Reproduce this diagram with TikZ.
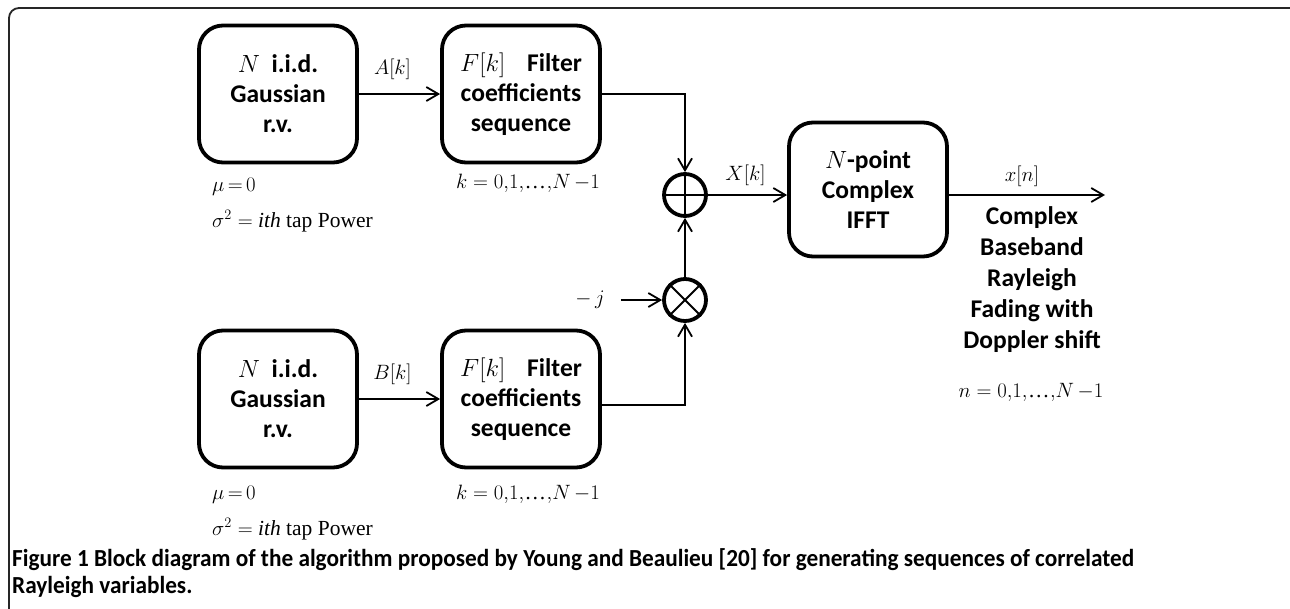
\documentclass[tikz,border=0pt]{standalone}
\usepackage{fontspec}
\setmainfont{Liberation Serif}
\newfontfamily\boxfont{Carlito}
\newfontfamily\capfont[FakeStretch=0.95]{Carlito}
\usetikzlibrary{arrows.meta,calc}
\newcommand{\tightdots}{\mbox{\fontspec{Liberation Serif}\kern0.5pt…\kern0.5pt}}
\begin{document}
\begin{tikzpicture}[x=1pt,y=-1pt,
  blk/.style={draw, line width=3.8pt, rounded corners=24pt, minimum width=158pt, minimum height=137pt,
    align=center, inner sep=0pt, font=\boxfont\bfseries\fontsize{25.5}{30}\selectfont},
  sumnode/.style={draw, circle, line width=3.8pt, minimum size=42pt, inner sep=0pt},
  conn/.style={line width=1.8pt, -{Straight Barb[length=12pt,width=14pt,line width=1.8pt]}},
  lbl/.style={inner sep=0pt, font=\fontsize{21.5}{25}\selectfont},
  outtxt/.style={inner sep=0pt, align=center, font=\boxfont\bfseries\fontsize{25.5}{31}\selectfont},
  captxt/.style={inner sep=0pt, anchor=base west, font=\capfont\bfseries\fontsize{24.5}{28}\selectfont}
]
\useasboundingbox (0,0) rectangle (1290,608);
\draw[line width=1.8pt, black!85, rounded corners=10pt] (9,8) rectangle (1300,640);

% blocks
\node[blk] (g1) at (278,94) {$N$\ \ i.i.d.\\Gaussian\\r.v.};
\node[blk] (f1) at (521,94) {$F[k]$\hspace{22pt}Filter\\coefficients\\sequence};
\node[blk] (g2) at (278,399) {$N$\ \ i.i.d.\\Gaussian\\r.v.};
\node[blk] (f2) at (521,399) {$F[k]$\hspace{22pt}Filter\\coefficients\\sequence};
\node[blk, minimum height=134pt] (ifft) at (868,189.5) {$N$-point\\Complex\\IFFT};

% adders
\node[sumnode] (plus) at (685,195) {};
\node[sumnode] (times) at (685,300) {};
\draw[line width=2.6pt] (plus.north) -- (plus.south) (plus.west) -- (plus.east);
\draw[line width=2pt] (times.north west) -- (times.south east) (times.north east) -- (times.south west);

% connectors
\draw[conn] (g1.east) -- node[lbl, above=13pt, xshift=-7pt] {$A[k]$} (f1.west);
\draw[conn] (g2.east) -- node[lbl, above=13pt, xshift=-7pt] {$B[k]$} (f2.west);
\draw[conn] (f1.east) -| (plus.north);
\draw[conn] ($(f2.east)+(0,6)$) -| (times.south);
\draw[conn] (times.north) -- (plus.south);
\node[lbl] (mj) at (590,300) {$-\,j$};
\draw[conn] (mj.east) ++(16,0) coordinate (mjs) -- (times.west);
\draw[conn] (plus.east) -- node[lbl, above=8pt, xshift=-2pt] {$X[k]$} (plus.east -| ifft.west);
\coordinate (out) at (1105,195);
\draw[conn] (ifft.east |- plus.east) -- node[lbl, above=7pt, xshift=-5pt] {$x[n]$} (out);

% annotations
\node[lbl, anchor=base west] (mu1) at (212,191) {$\mu\,{=}\,0$};
\node[lbl, anchor=base west] (sg1) at (212,227) {$\sigma^2 = $ \textit{ith} tap Power};
\node[lbl, anchor=base west] (k1) at (456,188) {$k = 0{,}1{,}$\tightdots$,\!N\,{-}1$};
\node[lbl, anchor=base west] (mu2) at (212,499) {$\mu\,{=}\,0$};
\node[lbl, anchor=base west] (sg2) at (212,535) {$\sigma^2 = $ \textit{ith} tap Power};
\node[lbl, anchor=base west] (k2) at (456,499) {$k = 0{,}1{,}$\tightdots$,\!N\,{-}1$};

\node[outtxt, anchor=north] (res) at (1032,206) {Complex\\Baseband\\Rayleigh\\Fading with\\Doppler shift};
\node[lbl, anchor=base] (n1) at (1031,397) {$n = 0{,}1{,}$\tightdots$,\!N\,{-}1$};

% caption
\node[captxt] (c1) at (12,566) {Figure 1 Block diagram of the algorithm proposed by Young and Beaulieu [20] for generating sequences of correlated};
\node[captxt] (c2) at (12,593) {Rayleigh variables.};
\end{tikzpicture}
\end{document}
